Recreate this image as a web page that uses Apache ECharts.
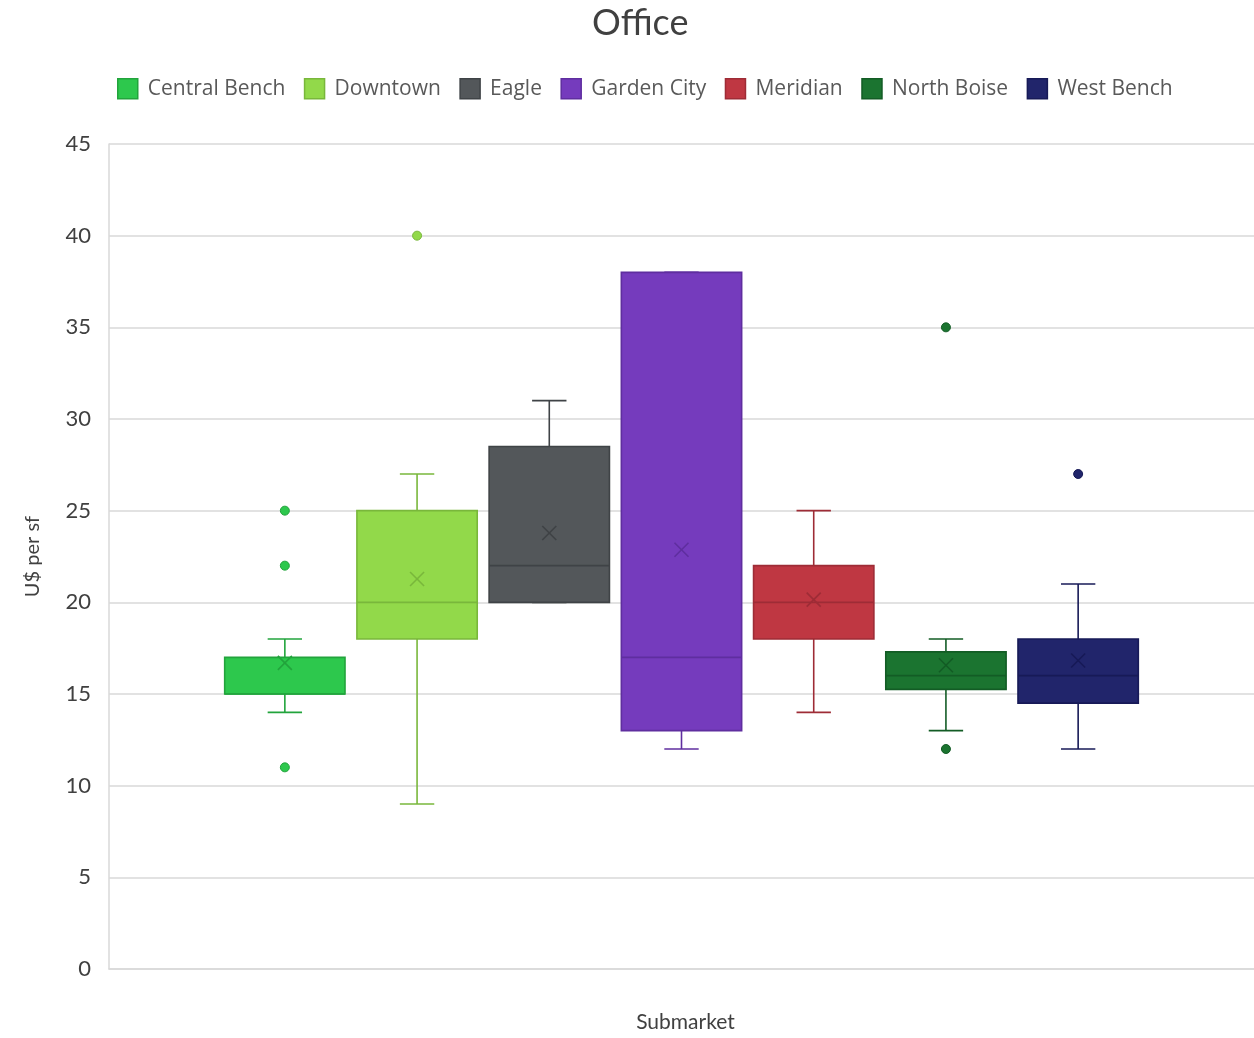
<!DOCTYPE html>
<html>
<head>
<meta charset="utf-8">
<title>Office</title>
<script src="https://cdn.jsdelivr.net/npm/echarts@6/dist/echarts.min.js"></script>
<style>
  html, body { margin: 0; padding: 0; background: #ffffff; }
  #chart { width: 1254px; height: 1038px; }
</style>
</head>
<body>
<div id="chart"></div>
<script>
// Office asking rents by submarket (U$ per sf): box-and-whisker summary
const submarkets = ['Central Bench', 'Downtown', 'Eagle', 'Garden City', 'Meridian', 'North Boise', 'West Bench'];
const whiskerLow  = [14, 9, 20, 12, 14, 13, 12];
const quartile1   = [15, 18, 20, 13, 18, 15.25, 14.5];
const medians     = [15, 20, 22, 17, 20, 16, 16];
const quartile3   = [17, 25, 28.5, 38, 22, 17.3, 18];
const whiskerHigh = [18, 27, 31, 38, 25, 18, 21];
const means       = [16.7, 21.27, 23.78, 22.87, 20.15, 16.57, 16.83];
const outliers    = [[25, 22, 11], [40], [], [], [], [35, 12], [27]];
const yTicks      = [0, 5, 10, 15, 20, 25, 30, 35, 40, 45];

const fills = ['#2dc84d', '#92d94a', '#53575a', '#753bbd', '#bf3742', '#1b7430', '#21256b'];
const edges = ['#22a43c', '#79b73b', '#3f4346', '#5f2e9f', '#9e2c36', '#135c25', '#171a57'];

const chart = echarts.init(document.getElementById('chart'), null, { renderer: 'canvas' });

function boxRenderer(idx) {
  return function (params, api) {
    const x = api.value(0);
    const unit = api.size([1, 0])[0];
    const half = unit * 0.455;
    const capHalf = unit * 0.13;
    const pLow = api.coord([x, api.value(1)]);
    const pQ1 = api.coord([x, api.value(2)]);
    const pMed = api.coord([x, api.value(3)]);
    const pQ3 = api.coord([x, api.value(4)]);
    const pHigh = api.coord([x, api.value(5)]);
    const pMean = api.coord([x, api.value(6)]);
    const cx = pQ1[0];
    const lineStyle = { stroke: edges[idx], lineWidth: 1.6, fill: null };
    const m = 7;
    return {
      type: 'group',
      children: [
        { type: 'line', shape: { x1: cx, y1: pQ3[1], x2: cx, y2: pHigh[1] }, style: lineStyle },
        { type: 'line', shape: { x1: cx - capHalf, y1: pHigh[1], x2: cx + capHalf, y2: pHigh[1] }, style: lineStyle },
        { type: 'line', shape: { x1: cx, y1: pQ1[1], x2: cx, y2: pLow[1] }, style: lineStyle },
        { type: 'line', shape: { x1: cx - capHalf, y1: pLow[1], x2: cx + capHalf, y2: pLow[1] }, style: lineStyle },
        {
          type: 'rect',
          shape: { x: cx - half, y: pQ3[1], width: half * 2, height: pQ1[1] - pQ3[1] },
          style: { fill: fills[idx], stroke: edges[idx], lineWidth: 1.6 }
        },
        { type: 'line', shape: { x1: cx - half, y1: pMed[1], x2: cx + half, y2: pMed[1] }, style: lineStyle },
        { type: 'line', shape: { x1: pMean[0] - m, y1: pMean[1] - m, x2: pMean[0] + m, y2: pMean[1] + m }, style: lineStyle },
        { type: 'line', shape: { x1: pMean[0] - m, y1: pMean[1] + m, x2: pMean[0] + m, y2: pMean[1] - m }, style: lineStyle }
      ]
    };
  };
}

const series = [];
submarkets.forEach(function (name, i) {
  series.push({
    name: name,
    type: 'custom',
    renderItem: boxRenderer(i),
    itemStyle: { color: fills[i], borderColor: edges[i] },
    encode: { x: 0, y: [1, 2, 3, 4, 5, 6] },
    data: [[i, whiskerLow[i], quartile1[i], medians[i], quartile3[i], whiskerHigh[i], means[i]]],
    z: 2
  });
});
submarkets.forEach(function (name, i) {
  if (!outliers[i].length) return;
  series.push({
    name: name,
    type: 'scatter',
    symbol: 'circle',
    symbolSize: 9,
    itemStyle: { color: fills[i], borderColor: edges[i], borderWidth: 1, opacity: 1 },
    data: outliers[i].map(function (v) { return [i, v]; }),
    z: 3
  });
});

const option = {
  animation: false,
  backgroundColor: '#ffffff',
  title: {
    text: 'Office',
    left: 587,
    top: 0,
    textStyle: { fontFamily: 'Lato', fontSize: 36, fontWeight: 'normal', color: '#404040' }
  },
  legend: {
    top: 73,
    left: 112,
    itemGap: 18.5,
    itemWidth: 20,
    itemHeight: 20,
    icon: 'rect',
    textStyle: { fontFamily: 'Open Sans', fontSize: 21, color: '#595959', padding: [0, 0, 0, 5] },
    data: submarkets.map(function (n, i) {
      return { name: n, itemStyle: { color: fills[i], borderColor: edges[i], borderWidth: 1.5 } };
    })
  },
  grid: { left: 109, right: 0, top: 144, bottom: 61, containLabel: false },
  xAxis: {
    type: 'value',
    min: -1.33,
    max: 7.33,
    name: 'Submarket',
    nameLocation: 'middle',
    nameGap: 43,
    nameTextStyle: { fontFamily: 'Lato', fontSize: 21, color: '#404040', padding: [0, 0, 0, 8] },
    axisLine: { show: true, lineStyle: { color: '#d9d9d9', width: 1.5 } },
    axisTick: { show: false },
    axisLabel: { show: false },
    splitLine: { show: false }
  },
  yAxis: {
    type: 'value',
    min: yTicks[0],
    max: yTicks[yTicks.length - 1],
    interval: yTicks[1] - yTicks[0],
    name: 'U$ per sf',
    nameLocation: 'middle',
    nameGap: 66,
    nameTextStyle: { fontFamily: 'Lato', fontSize: 20, color: '#404040' },
    axisLine: { show: true, onZero: false, lineStyle: { color: '#d9d9d9', width: 1.5 } },
    axisTick: { show: false },
    axisLabel: { fontFamily: 'Lato', fontSize: 22, color: '#404040', margin: 18 },
    splitLine: { show: true, lineStyle: { color: '#d9d9d9', width: 1.5 } }
  },
  series: series
};

chart.setOption(option);
</script>
</body>
</html>
